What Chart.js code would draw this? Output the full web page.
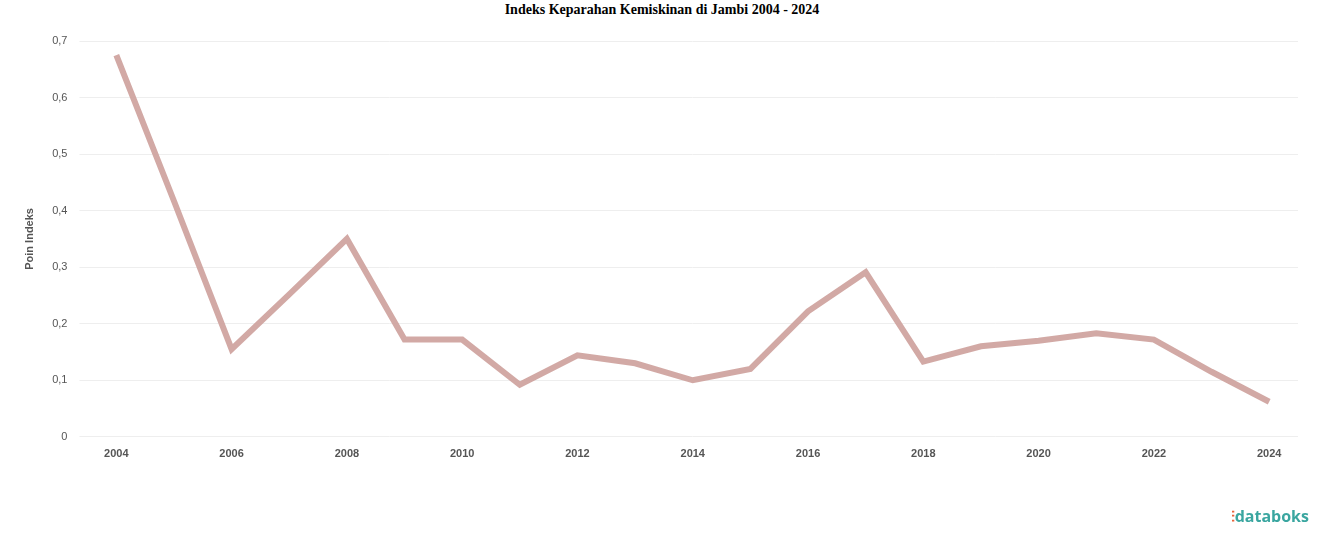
<!DOCTYPE html>
<html><head><meta charset="utf-8">
<script src="https://cdn.jsdelivr.net/npm/chart.js@4"></script>
<style>body{margin:0;background:#fff;}#w{position:relative;width:1324px;height:547px;}
#t{position:absolute;top:2px;width:100%;text-align:center;font:bold 14px "Liberation Serif";}
#l{position:absolute;right:15px;bottom:20px;font:bold 16px "Open Sans";color:#3aa6a0;}
#l span{color:#e8643c;}</style></head><body>
<div id="w"><div id="t">Indeks Keparahan Kemiskinan di Jambi 2004 - 2024</div>
<canvas id="c" style="position:absolute;left:0;top:0" width="1324" height="547"></canvas>
<div id="l"><span>⫶</span>databoks</div></div>
<script>
const years=["2004","2005","2006","2007","2008","2009","2010","2011","2012","2013","2014","2015","2016","2017","2018","2019","2020","2021","2022","2023","2024"];
const values=[0.675,0.417,0.155,0.252,0.35,0.172,0.172,0.092,0.144,0.13,0.10,0.12,0.222,0.291,0.133,0.16,0.17,0.183,0.172,0.115,0.062];
new Chart(document.getElementById('c'),{type:'line',
data:{labels:years,datasets:[{data:values,borderColor:'rgba(205,160,155,0.9)',borderWidth:6,pointRadius:0,tension:0}]},
options:{responsive:false,animation:false,layout:{padding:{top:41,right:26,left:19,bottom:83}},
plugins:{legend:{display:false}},
scales:{x:{offset:true,grid:{display:false},border:{display:false},ticks:{autoSkip:false,maxRotation:0,color:'#555',font:{size:11,weight:'bold'},callback:(v,i)=>i%2?'':years[i]}},
y:{min:0,max:0.7,border:{display:false},grid:{color:'#eee'},title:{display:true,text:'Poin Indeks',color:'#555',font:{size:11,weight:'bold'}},
ticks:{stepSize:0.1,color:'#555',font:{size:11},padding:12,callback:v=>v===0?'0':v.toFixed(1).replace('.',',')}}}}});
</script></body></html>
